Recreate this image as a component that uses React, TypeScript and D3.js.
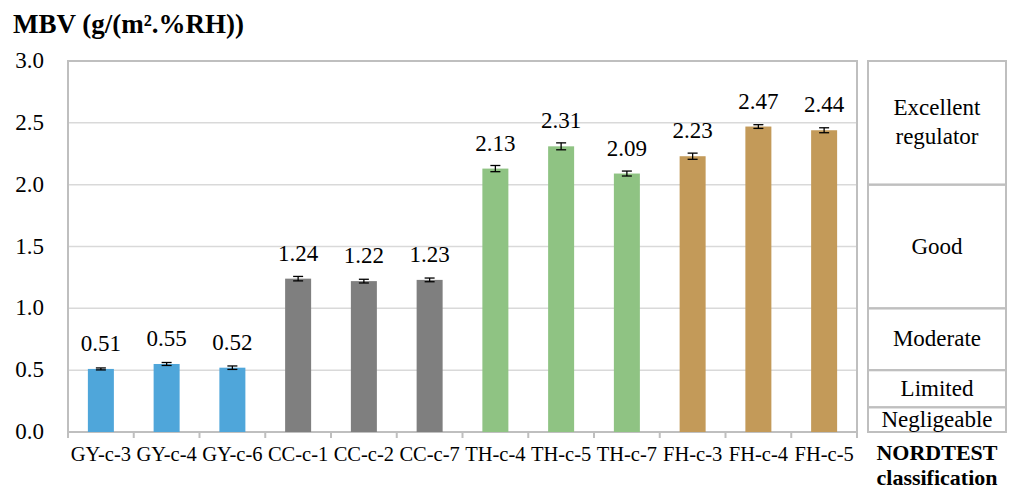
import React from "react";
import * as d3 from "d3";

// Samples, measured MBV and standard deviation
const categories = [
  "GY-c-3", "GY-c-4", "GY-c-6",
  "CC-c-1", "CC-c-2", "CC-c-7",
  "TH-c-4", "TH-c-5", "TH-c-7",
  "FH-c-3", "FH-c-4", "FH-c-5",
];
const mbvValues = [0.51, 0.55, 0.52, 1.24, 1.22, 1.23, 2.13, 2.31, 2.09, 2.23, 2.47, 2.44];
const mbvErrors = [0.008, 0.012, 0.014, 0.018, 0.015, 0.015, 0.025, 0.028, 0.02, 0.025, 0.015, 0.02];
const materialGroups = ["GY", "GY", "GY", "CC", "CC", "CC", "TH", "TH", "TH", "FH", "FH", "FH"];
const groupColors: Record<string, string> = {
  GY: "#4FA6DA",
  CC: "#7F7F7F",
  TH: "#8FC383",
  FH: "#C39A59",
};
const yTicks = [0, 0.5, 1.0, 1.5, 2.0, 2.5, 3.0];

// NORDTEST practical MBV classes
const classNames = [["Excellent", "regulator"], ["Good"], ["Moderate"], ["Limited"], ["Negligeable"]];
const classUpper = [3.0, 2.0, 1.0, 0.5, 0.2];
const classLower = [2.0, 1.0, 0.5, 0.2, 0.0];

const W = 1011;
const H = 490;
const plot = { left: 68, right: 857, top: 61, bottom: 432 };
const panel = { left: 868, right: 1006 };
const font = "Liberation Serif";
const frameColor = "#BFBFBF";

const txt = { fontFamily: font };

export default function App() {
  const x = d3
    .scaleBand<string>()
    .domain(categories)
    .range([plot.left, plot.right])
    .paddingInner(0)
    .paddingOuter(0);
  const y = d3.scaleLinear().domain([0, 3]).range([plot.bottom, plot.top]);
  const barW = 26;
  const step = x.step();
  const boundaries = d3.range(categories.length + 1).map((i) => plot.left + i * step);
  const panelMid = (panel.left + panel.right) / 2;

  return (
    <svg
      width={W}
      height={H}
      style={{ position: "absolute", left: 0, top: 0, background: "#fff" }}
    >
      <rect x={0} y={0} width={W} height={H} fill="#fff" />
      {/* title */}
      <text x={13} y={33} fontSize={27} fontWeight="bold" fill="#000" style={txt}>
        MBV (g/(m².%RH))
      </text>

      {/* gridlines */}
      {yTicks.slice(1, -1).map((t) => (
        <line key={t} x1={plot.left} x2={plot.right} y1={y(t)} y2={y(t)} stroke="#D9D9D9" strokeWidth={1.5} />
      ))}

      {/* plot frame */}
      <rect
        x={plot.left}
        y={plot.top}
        width={plot.right - plot.left}
        height={plot.bottom - plot.top}
        fill="none"
        stroke={frameColor}
        strokeWidth={2}
      />

      {/* y tick labels */}
      {yTicks.map((t) => (
        <text key={t} x={44} y={y(t) + 7} textAnchor="end" fontSize={23} fill="#000" style={txt}>
          {t.toFixed(1)}
        </text>
      ))}

      {/* x ticks */}
      {boundaries.map((bx, i) => (
        <line key={i} x1={bx} x2={bx} y1={plot.bottom} y2={plot.bottom + 6} stroke={frameColor} strokeWidth={2} />
      ))}

      {/* bars */}
      {categories.map((c, i) => {
        const cx = (x(c) as number) + step / 2;
        const v = mbvValues[i];
        const e = mbvErrors[i];
        return (
          <g key={c}>
            <rect
              x={cx - barW / 2}
              y={y(v)}
              width={barW}
              height={y(0) - y(v)}
              fill={groupColors[materialGroups[i]]}
            />
            <line x1={cx} x2={cx} y1={y(v + e)} y2={y(v - e)} stroke="#000" strokeWidth={1.3} />
            <line x1={cx - 5} x2={cx + 5} y1={y(v + e)} y2={y(v + e)} stroke="#000" strokeWidth={1.3} />
            <line x1={cx - 5} x2={cx + 5} y1={y(v - e)} y2={y(v - e)} stroke="#000" strokeWidth={1.3} />
            <text x={cx} y={y(v) - 18} textAnchor="middle" fontSize={23} fill="#000" style={txt}>
              {v.toFixed(2)}
            </text>
            <text x={cx} y={461} textAnchor="middle" fontSize={20.5} fill="#000" style={txt}>
              {c}
            </text>
          </g>
        );
      })}

      {/* NORDTEST classification panel */}
      {classNames.map((lines, i) => {
        const top = y(classUpper[i]);
        const bot = y(classLower[i]);
        const mid = (top + bot) / 2;
        const lh = 29;
        return (
          <g key={i}>
            <rect
              x={panel.left}
              y={top}
              width={panel.right - panel.left}
              height={bot - top}
              fill="none"
              stroke={frameColor}
              strokeWidth={2}
            />
            {lines.map((ln, j) => (
              <text
                key={j}
                x={panelMid}
                y={mid + 7 + (j - (lines.length - 1) / 2) * lh}
                textAnchor="middle"
                fontSize={23}
                fill="#000"
                style={txt}
              >
                {ln}
              </text>
            ))}
          </g>
        );
      })}
      <text x={panelMid} y={460} textAnchor="middle" fontSize={22} fontWeight="bold" fill="#000" style={txt}>
        NORDTEST
      </text>
      <text x={panelMid} y={485} textAnchor="middle" fontSize={22} fontWeight="bold" fill="#000" style={txt}>
        classification
      </text>
    </svg>
  );
}
